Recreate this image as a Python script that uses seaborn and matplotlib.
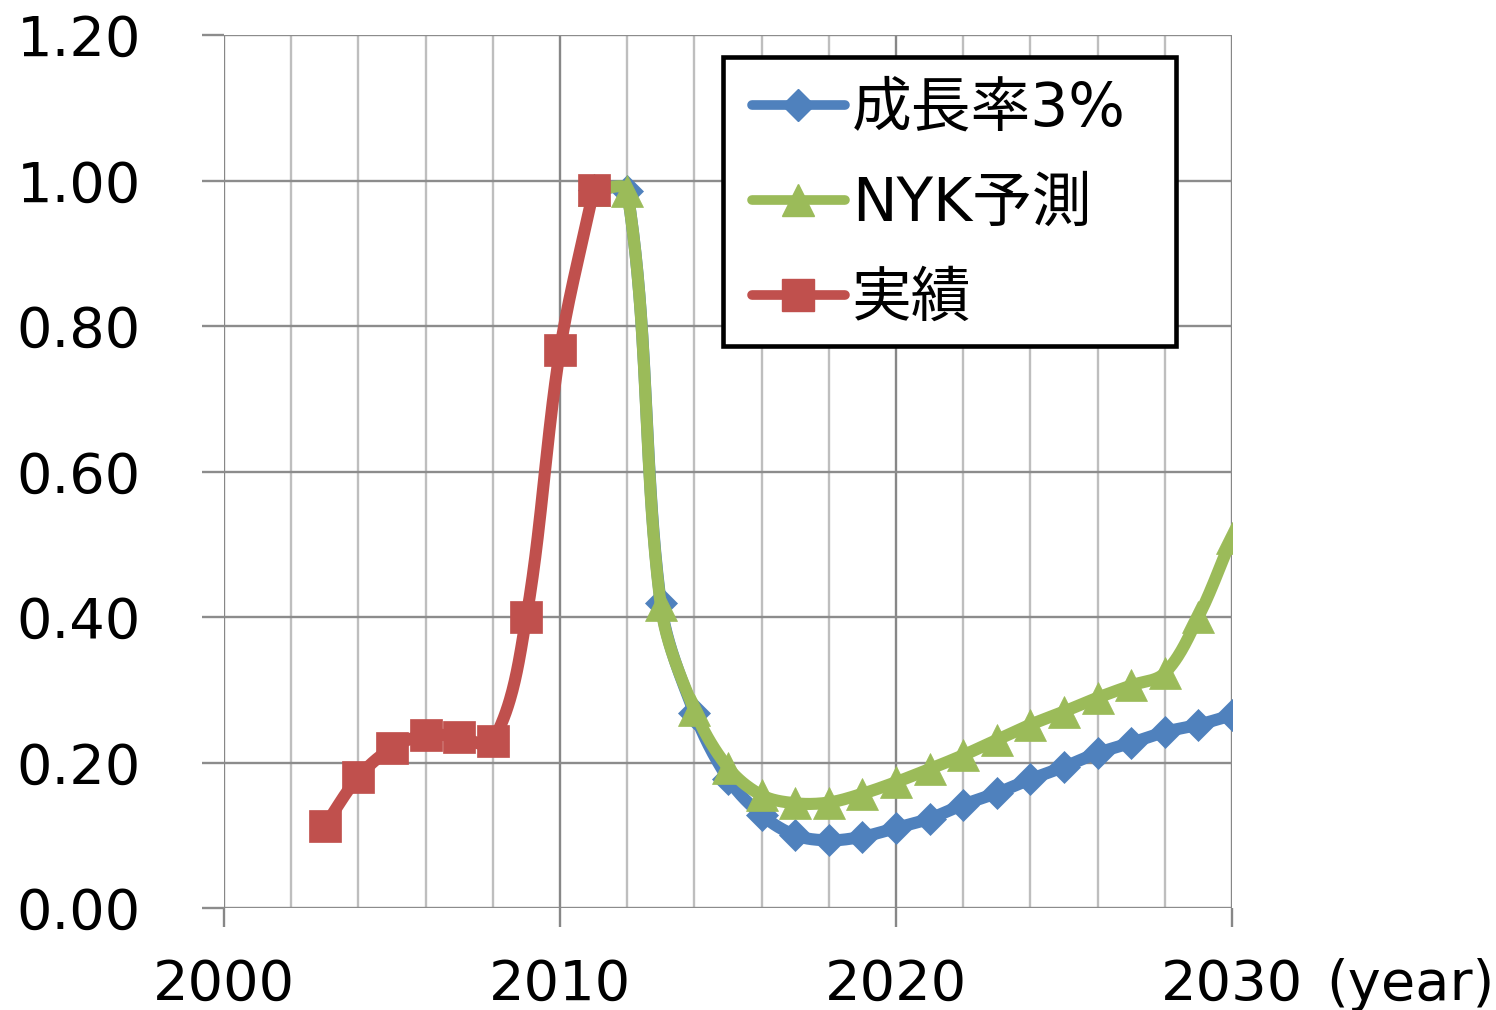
import numpy as np
import pandas as pd
import matplotlib
matplotlib.use("Agg")
import matplotlib.pyplot as plt
from matplotlib.lines import Line2D
from matplotlib.patches import Rectangle
from matplotlib.ticker import MultipleLocator, FixedLocator
import seaborn as sns

# ---- data -------------------------------------------------------------
actual_years = [2003, 2004, 2005, 2006, 2007, 2008, 2009, 2010, 2011]
actual_values = [0.113, 0.180, 0.220, 0.238, 0.235, 0.229, 0.400, 0.767, 0.987]

forecast_years = list(range(2011, 2031))
growth3_values = [0.987, 0.985, 0.419, 0.268, 0.178, 0.128, 0.100, 0.093, 0.098, 0.110,
                  0.123, 0.142, 0.158, 0.177, 0.194, 0.213, 0.227, 0.242, 0.252, 0.265]
nyk_values = [0.987, 0.985, 0.416, 0.272, 0.193, 0.155, 0.144, 0.145, 0.157, 0.173,
              0.191, 0.210, 0.231, 0.252, 0.270, 0.289, 0.306, 0.323, 0.400, 0.509]

series_labels = ["成長率3%", "NYK予測", "実績"]
x_major_ticks = [2000, 2010, 2020, 2030]
x_tick_labels = ["2000", "2010", "2020", "2030"]
y_ticks = [0.0, 0.2, 0.4, 0.6, 0.8, 1.0, 1.2]
y_tick_labels = ["0.00", "0.20", "0.40", "0.60", "0.80", "1.00", "1.20"]
x_unit = "(year)"

BLUE, GREEN, RED = "#4F81BD", "#9BBB59", "#C0504D"

# screen scale of the axes (pixels per data unit), used so the smoothing
# behaves the same way it would on screen
PX_PER_YEAR = 1008 / 30
PX_PER_UNIT = 873 / 1.2


def smooth_path(xs, ys, n=40, k=1 / 3):
    """Smoothed line through the points: cubic Bezier segments whose tangent
    handles are scaled by the length of each neighbouring segment."""
    p = np.column_stack([np.asarray(xs, float) * PX_PER_YEAR,
                         np.asarray(ys, float) * PX_PER_UNIT])
    m = len(p)
    tang = np.zeros_like(p)
    for i in range(m):
        a = p[max(i - 1, 0)]
        b = p[min(i + 1, m - 1)]
        d = b - a
        nrm = np.hypot(*d)
        tang[i] = d / nrm if nrm > 0 else 0
    out = []
    for i in range(m - 1):
        p1, p2 = p[i], p[i + 1]
        L = np.hypot(*(p2 - p1))
        c1 = p1 + tang[i] * L * k
        c2 = p2 - tang[i + 1] * L * k
        t = np.linspace(0, 1, n, endpoint=(i == m - 2))[:, None]
        seg = ((1 - t) ** 3) * p1 + 3 * ((1 - t) ** 2) * t * c1 + 3 * (1 - t) * t ** 2 * c2 + t ** 3 * p2
        out.append(seg)
    out = np.vstack(out)
    return pd.DataFrame({"x": out[:, 0] / PX_PER_YEAR, "y": out[:, 1] / PX_PER_UNIT})


sns.set_theme(style="white")
plt.rcParams["font.family"] = ["DejaVu Sans", "Noto Sans CJK JP"]
plt.rcParams["text.color"] = "black"

fig = plt.figure(figsize=(14.96, 10.10), dpi=100)
ax = fig.add_axes([224 / 1496, 102 / 1010, 1008 / 1496, 873 / 1010])

LW = 8.7
series = [
    (forecast_years, growth3_values, BLUE, "D", 16.5, 2),
    (forecast_years, nyk_values, GREEN, "^", 23, 3),
    (actual_years, actual_values, RED, "s", 23.5, 4),
]
handles = []
for (xs, ys, col, mk, ms, z), lab in zip(series, series_labels):
    curve = smooth_path(xs, ys)
    sns.lineplot(data=curve, x="x", y="y", sort=False, estimator=None,
                 color=col, linewidth=LW, ax=ax, zorder=z,
                 solid_capstyle="round", solid_joinstyle="round")
    ax.plot(xs, ys, linestyle="none", marker=mk, markersize=ms,
            markerfacecolor=col, markeredgecolor=col, markeredgewidth=0.5, zorder=z + 0.1)
    handles.append(Line2D([], [], color=col, linewidth=LW * 0.8, marker=mk, markersize=ms,
                          markerfacecolor=col, markeredgecolor=col, solid_capstyle="round"))

ax.set_xlim(2000, 2030)
ax.set_ylim(0, 1.2)
ax.set_xlabel("")
ax.set_ylabel("")

ax.xaxis.set_major_locator(FixedLocator(x_major_ticks))
ax.xaxis.set_minor_locator(MultipleLocator(2))
ax.set_xticks(x_major_ticks)
ax.set_xticklabels(x_tick_labels)
ax.set_yticks(y_ticks)
ax.set_yticklabels(y_tick_labels)

for s in ax.spines.values():
    s.set_visible(False)

ax.grid(which="major", axis="x", color="#878787", linewidth=1.7, zorder=0)
ax.grid(which="minor", axis="x", color="#bebebe", linewidth=1.7, zorder=0)
ax.grid(which="major", axis="y", color="#8c8c8c", linewidth=1.7, zorder=0)
ax.set_axisbelow(True)

X_TICK_LEN, X_PAD = 13.7, 22.5
ax.tick_params(axis="y", which="major", length=15.8, width=1.7, color="#8c8c8c",
               pad=44.0, labelsize=40.2, labelcolor="black", left=True)
ax.tick_params(axis="x", which="major", length=X_TICK_LEN, width=1.7, color="#878787",
               pad=X_PAD, labelsize=40.2, labelcolor="black", bottom=True)
ax.tick_params(axis="x", which="minor", length=0)

ax.annotate(x_unit, xy=(2030, 0), xycoords="data", xytext=(68, -(X_TICK_LEN + X_PAD)),
            textcoords="offset points", ha="left", va="top", fontsize=40.2, color="black",
            annotation_clip=False)

# legend box drawn at a fixed size, legend entries placed inside it
box = Rectangle((723 / 1496, 1 - 346 / 1010), 453 / 1496, 289 / 1010,
                transform=fig.transFigure, facecolor="white", edgecolor="black",
                linewidth=3.3, clip_on=False, zorder=9)
ax.add_patch(box)
leg = ax.legend(handles, series_labels, loc="upper left",
                bbox_to_anchor=(740 / 1496, 1 - 68 / 1010), bbox_transform=fig.transFigure,
                fontsize=43, frameon=False, labelcolor="black",
                handlelength=1.55, handletextpad=0.12,
                labelspacing=0.6, borderpad=0.2, borderaxespad=0)
leg.set_zorder(10)

fig.savefig("out.png", dpi=100, facecolor="white")
